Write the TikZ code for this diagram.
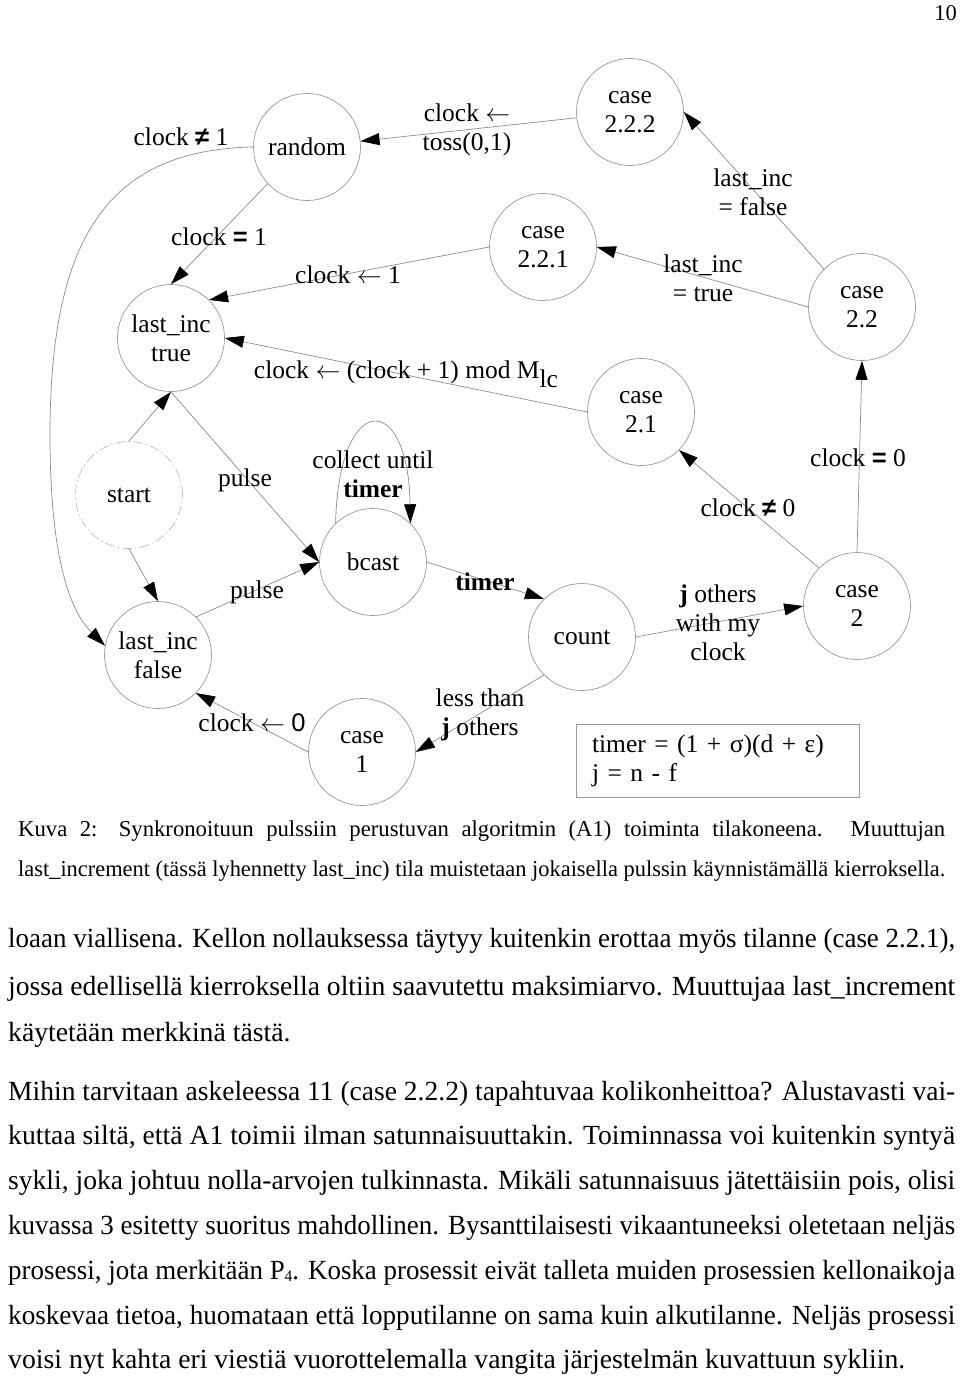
\documentclass[tikz,border=0pt]{standalone}
\usepackage{graphicx}
\usepackage{fontspec}
\setmainfont{Liberation Serif}
\newfontfamily\sanss{Liberation Sans}
\usetikzlibrary{arrows.meta,positioning}

% one justified line of text: stretch the spaces, or squeeze if too long
\newlength\rivi
\newcommand\tasaa[2]{%
  \settowidth{\rivi}{#2}%
  \ifdim\rivi>#1\relax\resizebox{#1}{\height}{#2}\else\makebox[#1][s]{#2}\fi}
\newcommand\sij{\(\leftarrow\)}
\newcommand\eri{{\sanss\bfseries ≠}}
\newcommand\yht{{\sanss\bfseries =}}

\begin{document}
\begin{tikzpicture}[
    x=1pt, y=-1pt,
    font=\fontsize{25.5}{29}\selectfont,
    tila/.style={
		circle,
		draw=black!40,
		line width=0.7pt,
		minimum size=107pt,
		inner sep=0pt,
		align=center
	},
	ehto/.style={
		align=center,
		inner sep=1pt
	},
	siirto/.style={
		draw=black!45,
		line width=0.7pt,
		-{Triangle[length=19pt,width=12pt,color=black]}
	},
	rivi/.style={
		anchor=base west,
		inner sep=0pt
	}
  ]
  \useasboundingbox (0,0) rectangle (960,1378);

    % the states
  \node [tila] (random) at (307,147) {random};
  \node [tila] (c222) at (630,112) {case\\2.2.2};
  \node [tila] (c221) at (543,247) {case\\2.2.1};
  \node [tila] (ltrue) at (171,338) {last\_inc\\true};
  \node [tila] (c22) at (862,307) {case\\2.2};
  \node [tila] (c21) at (641,412) {case\\2.1};
  \node [tila, draw=black!25, dash pattern=on 10pt off 3pt on 1.5pt off 3pt] (start) at (129,495) {start};
  \node [tila] (bcast) at (373,562) {bcast};
  \node [tila] (lfalse) at (158,655) {last\_inc\\false};
  \node [tila] (c1) at (362,752) {case\\1};
  \node [tila] (count) at (582,637) {count};
  \node [tila] (c2) at (857,606) {case\\2};

  \node [draw=black!40, line width=0.7pt, align=left, text width=251pt, inner xsep=16pt, minimum height=73pt] (vakiot) at (717.5,760.5)
 {%
  timer = (1 + σ)(d + ε)\\
  j = n - f
 };

  \coordinate (kaari) at (50,435);

    % the transitions
 \draw [siirto] (c222) -- (random);
 \draw [siirto] (random.223) -- (ltrue.north);
 \draw [siirto] (random.west) .. controls (111,150) and (50,233) .. (kaari) .. controls (50,530) and (62,603) .. (lfalse.170);
 \draw [siirto] (c221.west) -- (ltrue.45);
 \draw [siirto] (c21.west) -- (ltrue.east);
 \draw [siirto] (c22.135) -- (c222.east);
 \draw [siirto] (c22.west) -- (c221.east);
 \draw [siirto] (c2.north) -- (c22.south);
 \draw [siirto] (c2.135) -- (c21.315);
 \draw [siirto] (start.north) -- (ltrue.south);
 \draw [siirto] (ltrue.south) -- (bcast.west);
 \draw [siirto] (start.south) -- (lfalse.north);
 \draw [siirto] (lfalse.45) -- (bcast.west);
 \draw [siirto] (bcast.134) .. controls +(3,-133) and +(-2,-133) .. (bcast.46);
 \draw [siirto] (bcast.east) -- (count.135);
 \draw [siirto] (count.225) -- (c1.east);
 \draw [siirto] (c1.west) -- (lfalse.315);
 \draw [siirto] (count.east) -- (c2.west);

    % the conditions
  \node [ehto] (e1) at (181,137) {clock \eri{} 1};
  \node [ehto] (e2) at (219,237) {clock \yht{} 1};
  \node [ehto] (e3) at (467,130) {clock \sij\\toss(0,1)};
  \node [ehto] (e4) at (348,275) {clock \sij{} 1};
  \node [ehto, anchor=base] (e5) at (406,378) {clock \sij{} (clock + 1) mod M\raisebox{-9pt}{lc}};
  \node [ehto] (e6) at (753,192) {last\_inc\\= false};
  \node [ehto] (e7) at (703,278) {last\_inc\\= true};
  \node [ehto] (e8) at (858,458) {clock \yht{} 0};
  \node [ehto] (e9) at (748,508) {clock \eri{} 0};
  \node [ehto] (e10) at (245,480) {pulse};
  \node [ehto] (e11) at (257,592) {pulse};
  \node [ehto] (e12) at (373,474) {collect until\\\textbf{timer}};
  \node [ehto] (e13) at (485,582) {\textbf{timer}};
  \node [ehto] (e14) at (480,715) {less than\\\textbf{j} others};
  \node [ehto] (e15) at (718,623) {\textbf{j} others\\with my\\clock};
  \node [ehto] (e16) at (252,723) {clock \sij{} {\sanss 0}};

    % page number, caption and text
  \node [anchor=base east, inner sep=0pt, font=\fontsize{22.5}{22.5}\selectfont] (sivu) at (957,21) {10};

  \node [rivi, font=\fontsize{22.7}{26}\selectfont] (kuva1) at (18,836)
 {\tasaa{927pt}{Kuva 2: Synkronoituun pulssiin perustuvan algoritmin (A1) toiminta tilakoneena. Muuttujan}};
  \node [rivi, font=\fontsize{22.7}{26}\selectfont] (kuva2) at (18,876)
 {\tasaa{927pt}{last\_increment (tässä lyhennetty last\_inc) tila muistetaan jokaisella pulssin käynnistämällä kierroksella.}};

  \node [rivi, font=\fontsize{27.7}{30}\selectfont] (t1) at (8,947)
 {\tasaa{947pt}{loaan viallisena. Kellon nollauksessa täytyy kuitenkin erottaa myös tilanne (case 2.2.1),}};
  \node [rivi, font=\fontsize{27.7}{30}\selectfont] (t2) at (8,995)
 {\tasaa{947pt}{jossa edellisellä kierroksella oltiin saavutettu maksimiarvo. Muuttujaa last\_increment}};
  \node [rivi, font=\fontsize{27.7}{30}\selectfont] (t3) at (8,1041)
 {käytetään merkkinä tästä.};

  \node [rivi, font=\fontsize{27.7}{30}\selectfont] (t4) at (8,1100)
 {\tasaa{947pt}{Mihin tarvitaan askeleessa 11 (case 2.2.2) tapahtuvaa kolikonheittoa? Alustavasti vai-}};
  \node [rivi, font=\fontsize{27.7}{30}\selectfont] (t5) at (8,1144)
 {\tasaa{947pt}{kuttaa siltä, että A1 toimii ilman satunnaisuuttakin. Toiminnassa voi kuitenkin syntyä}};
  \node [rivi, font=\fontsize{27.7}{30}\selectfont] (t6) at (8,1189)
 {\tasaa{947pt}{sykli, joka johtuu nolla-arvojen tulkinnasta. Mikäli satunnaisuus jätettäisiin pois, olisi}};
  \node [rivi, font=\fontsize{27.7}{30}\selectfont] (t7) at (8,1234)
 {\tasaa{947pt}{kuvassa 3 esitetty suoritus mahdollinen. Bysanttilaisesti vikaantuneeksi oletetaan neljäs}};
  \node [rivi, font=\fontsize{27.7}{30}\selectfont] (t8) at (8,1279)
 {\tasaa{947pt}{prosessi, jota merkitään P\raisebox{-2pt}{\fontsize{16}{16}\selectfont 4}. Koska prosessit eivät talleta muiden prosessien kellonaikoja}};
  \node [rivi, font=\fontsize{27.7}{30}\selectfont] (t9) at (8,1324)
 {\tasaa{947pt}{koskevaa tietoa, huomataan että lopputilanne on sama kuin alkutilanne. Neljäs prosessi}};
  \node [rivi, font=\fontsize{27.7}{30}\selectfont] (t10) at (8,1368)
 {voisi nyt kahta eri viestiä vuorottelemalla vangita järjestelmän kuvattuun sykliin.};

\end{tikzpicture}
\end{document}
